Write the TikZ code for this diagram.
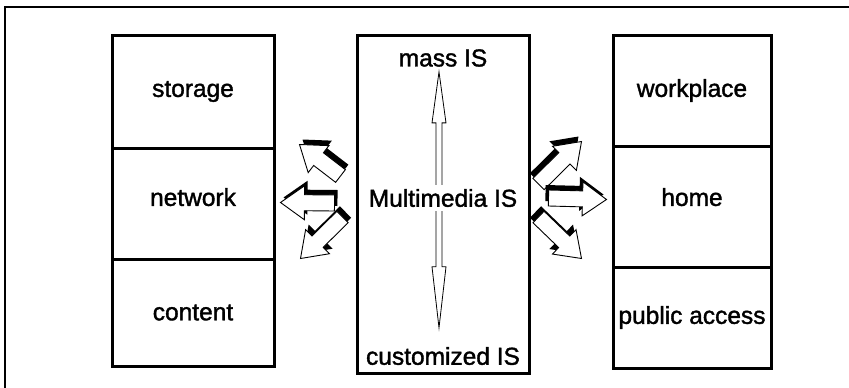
\documentclass[tikz,border=0pt]{standalone}
\usepackage{fontspec}
\setmainfont{Liberation Sans}
\newfontfamily\heavyfont[FakeBold=1.5]{Liberation Sans}
\usepackage{tikz}
\usetikzlibrary{calc, positioning}

\tikzset{
  cell/.style={draw, line width=3pt, minimum width=162pt, inner sep=0pt, font=\heavyfont\fontsize{24.5}{29}\selectfont},
  lbl/.style={inner sep=2pt, font=\heavyfont\fontsize{24.5}{29}\selectfont},
  blockline/.style={draw, line width=0.9pt, fill=white, line join=miter},
  thinarr/.style={draw, line width=0.8pt, fill=white}
}

% hollow block arrow with a black back side: tail, tip, shadow shift
\newcommand{\blockarr}[4]{%
  \path let \p1=($(#2)-(#1)$) in \pgfextra{%
    \pgfmathsetmacro\tmpang{atan2(\y1,\x1)}\xdef\barang{\tmpang}%
    \pgfmathsetmacro\tmplen{veclen(\x1,\y1)}\xdef\barlen{\tmplen}};
  \begin{scope}[shift={(#1)}, xshift=#3, yshift=#4, rotate=\barang]
    \fill[black] (0,-8) -- ({\barlen-24},-8) -- ({\barlen-24},-17) -- (\barlen,0)
      -- ({\barlen-24},17) -- ({\barlen-24},8) -- (0,8) -- cycle;
  \end{scope}
  \begin{scope}[shift={(#1)}, rotate=\barang]
    \path[blockline] (0,-8) -- ({\barlen-24},-8) -- ({\barlen-24},-17) -- (\barlen,0)
      -- ({\barlen-24},17) -- ({\barlen-24},8) -- (0,8) -- cycle;
  \end{scope}}

\begin{document}
\begin{tikzpicture}[x=1pt, y=-1pt]
  \useasboundingbox (0,0) rectangle (849,388);
  \draw[line width=1.5pt] (5,7) rectangle (870,400);

  % left column
  \node[cell, minimum height=113pt] (storage) at (193,91.5) {storage};
  \node[cell, minimum height=111pt, text depth=13pt] (network) at (193,203.5) {network};
  \node[cell, minimum height=107pt] (content) at (193,312.5) {content};

  % right column
  \node[cell, minimum width=158pt, minimum height=111pt] (workplace) at (692,90.5) {workplace};
  \node[cell, minimum width=158pt, minimum height=121pt, text depth=19pt] (home) at (692,206.5) {home};
  \node[cell, minimum width=158pt, minimum height=101pt] (public) at (692,317.5) {public access};

  % middle column
  \node[cell, minimum width=172pt, minimum height=338pt] (mid) at (443,204) {};
  \node[lbl] (mass) at (443,58) {mass IS};
  \node[lbl] (custom) at (443,356) {customized IS};

  \coordinate (up) at ([xshift=-4pt, yshift=-3pt]mass.south);
  \coordinate (dn) at ([xshift=-4pt, yshift=17pt]custom.north);
  \path[thinarr] let \p1=(up), \p2=(dn) in
    (\x1,\y1) -- (\x1+7pt,\y1-51pt) -- (\x1+3pt,\y1-51pt) -- (\x1+3pt,\y2+61pt)
    -- (\x1+7pt,\y2+61pt) -- (\x1,\y2) -- (\x1-7pt,\y2+61pt) -- (\x1-3pt,\y2+61pt)
    -- (\x1-3pt,\y1-51pt) -- (\x1-7pt,\y1-51pt) -- cycle;
  \node[lbl, fill=white, inner sep=4pt] (multi) at (443,198) {Multimedia IS};

  % arrows toward the left column
  \coordinate (lt1) at ($(mid.west)+(-15,-28)$);
  \coordinate (lt2) at ($(mid.west)+(-21,-1)$);
  \coordinate (lt3) at ($(mid.west)+(-13,13)$);
  \coordinate (lh1) at ($(storage.south east)+(24,-5)$);
  \coordinate (lh2) at ($(network.east)+(5,-1)$);
  \coordinate (lh3) at ($(content.north east)+(25,1)$);
  \blockarr{lt1}{lh1}{3pt}{5pt}
  \blockarr{lt2}{lh2}{3pt}{5pt}
  \blockarr{lt3}{lh3}{3pt}{5pt}

  % arrows toward the right column
  \coordinate (rt1) at ($(mid.east)+(8,-20)$);
  \coordinate (rt2) at ($(mid.east)+(18,-6)$);
  \coordinate (rt3) at ($(mid.east)+(8,13)$);
  \coordinate (rh1) at ($(workplace.south west)+(-30,-6)$);
  \coordinate (rh2) at ($(home.west)+(-5,-7)$);
  \coordinate (rh3) at ($(public.north west)+(-30,-7)$);
  \blockarr{rt1}{rh1}{-3pt}{5pt}
  \blockarr{rt2}{rh2}{-3pt}{5pt}
  \blockarr{rt3}{rh3}{-3pt}{5pt}
\end{tikzpicture}
\end{document}
